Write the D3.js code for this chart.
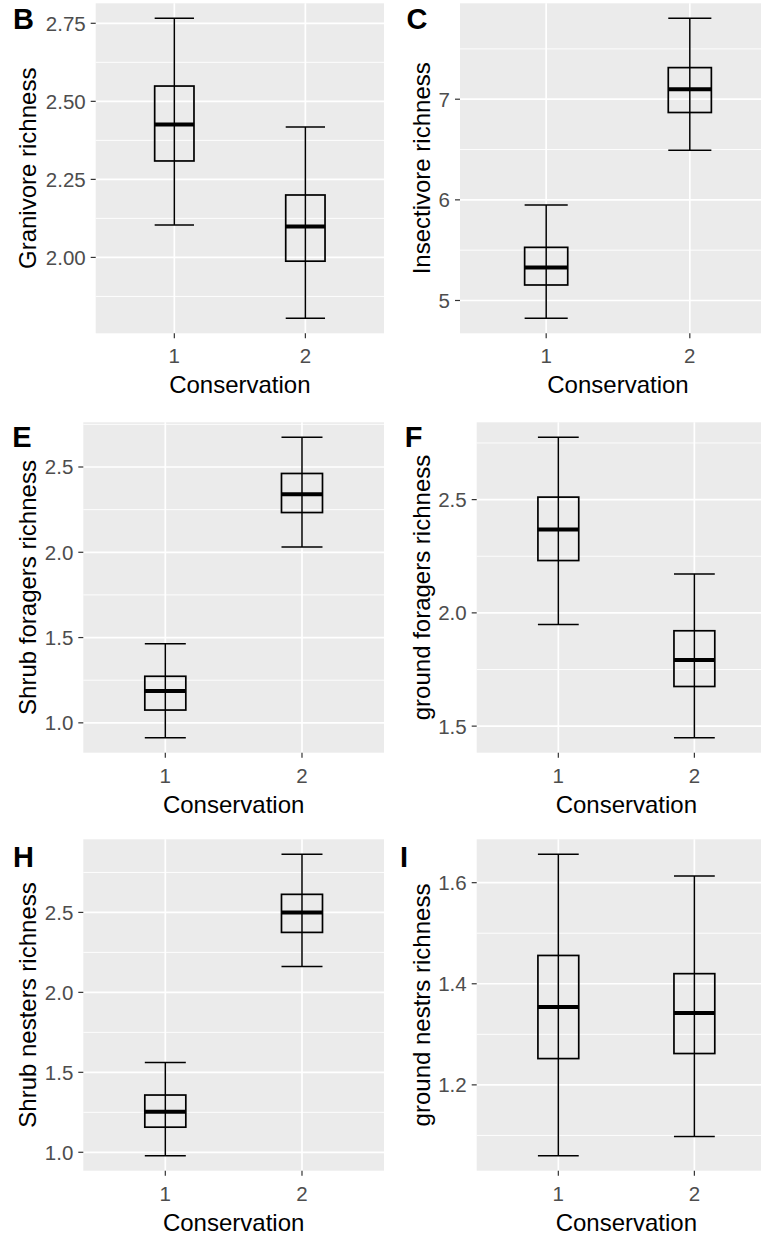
<!DOCTYPE html>
<html>
<head>
<meta charset="utf-8">
<script src="https://cdn.jsdelivr.net/npm/d3@7"></script>
<style>
  body { margin: 0; background: #fff; }
  svg { display: block; }
</style>
</head>
<body>
<div id="chart"></div>
<script>
// ---- data ----
const panelTags = ["B", "C", "E", "F", "H", "I"];
const yTitles = [
  "Granivore richness", "Insectivore richness",
  "Shrub foragers richness", "ground foragers richness",
  "Shrub nesters richness", "ground nestrs richness"
];
const groups = ["1", "2"];
const xTitle = "Conservation";

const yTickValues = [
  [2.00, 2.25, 2.50, 2.75], [5, 6, 7],
  [1.0, 1.5, 2.0, 2.5], [1.5, 2.0, 2.5],
  [1.0, 1.5, 2.0, 2.5], [1.2, 1.4, 1.6]
];
const yTickLabels = [
  ["2.00", "2.25", "2.50", "2.75"], ["5", "6", "7"],
  ["1.0", "1.5", "2.0", "2.5"], ["1.5", "2.0", "2.5"],
  ["1.0", "1.5", "2.0", "2.5"], ["1.2", "1.4", "1.6"]
];

// one pair per panel: [group 1, group 2]
const lowerWhisker  = [[2.104, 1.805], [4.823, 6.494], [0.913, 2.031], [1.949, 1.449], [0.979, 2.161], [1.060, 1.098]];
const lowerQuartile = [[2.309, 1.988], [5.154, 6.868], [1.075, 2.233], [2.231, 1.675], [1.157, 2.375], [1.252, 1.262]];
const medians       = [[2.426, 2.099], [5.329, 7.099], [1.186, 2.340], [2.368, 1.792], [1.254, 2.500], [1.354, 1.342]];
const upperQuartile = [[2.549, 2.200], [5.528, 7.314], [1.273, 2.462], [2.511, 1.921], [1.358, 2.613], [1.456, 1.420]];
const upperWhisker  = [[2.766, 2.418], [5.950, 7.804], [1.463, 2.674], [2.775, 2.172], [1.561, 2.863], [1.656, 1.613]];

// ---- layout ----
const width = 761, height = 1235;
const panels = [
  {left: 95.7,  top: 3.3,   right: 384, bottom: 333.3,  col: 0, tagY: 28.5},
  {left: 460,   top: 3.3,   right: 776, bottom: 333.3,  col: 1, tagY: 28.5},
  {left: 83.3,  top: 422.3, right: 384, bottom: 752.7,  col: 0, tagY: 446.8},
  {left: 476.7, top: 422.3, right: 776, bottom: 752.7,  col: 1, tagY: 446.8},
  {left: 83.3,  top: 839.3, right: 384, bottom: 1170.7, col: 0, tagY: 866.7},
  {left: 476.7, top: 839.3, right: 776, bottom: 1170.7, col: 1, tagY: 866.7}
];
const colBase = [2.5, 396];      // tag anchor of each column
const yTitleX = [36, 430];       // baseline of rotated y titles

const font = "'Liberation Sans', Arial, sans-serif";
const tickSize = 20.5, titleSize = 24, tagSize = 29;

const svg = d3.select("#chart")
  .append("svg")
    .attr("width", width)
    .attr("height", height)
    .style("font-family", font);

panels.forEach((p, i) => {
  const g = svg.append("g");

  // y domain like ggplot: data range expanded by 5%
  const lo = d3.min(lowerWhisker[i]), hi = d3.max(upperWhisker[i]);
  const pad = (hi - lo) * 0.05;
  const y = d3.scaleLinear()
    .domain([lo - pad, hi + pad])
    .range([p.bottom, p.top]);

  const x = d3.scalePoint()
    .domain(groups)
    .range([p.left, p.right])
    .padding(0.6);
  const boxW = x.step() * 0.3;

  // panel background (right column runs past the page edge, as in the original)
  g.append("rect")
    .attr("x", p.left).attr("y", p.top)
    .attr("width", p.right - p.left).attr("height", p.bottom - p.top)
    .attr("fill", "#EBEBEB");

  // minor grid: midpoints between ticks, one step beyond each end
  const ticks = yTickValues[i];
  const step = ticks[1] - ticks[0];
  const minor = [ticks[0] - step / 2].concat(ticks.map(t => t + step / 2))
    .filter(v => v > y.domain()[0] && v < y.domain()[1]);

  g.selectAll(".minor")
    .data(minor)
    .join("line")
      .attr("x1", p.left).attr("x2", p.right)
      .attr("y1", d => y(d)).attr("y2", d => y(d))
      .attr("stroke", "#fff").attr("stroke-width", 0.9);

  g.selectAll(".major")
    .data(ticks)
    .join("line")
      .attr("x1", p.left).attr("x2", p.right)
      .attr("y1", d => y(d)).attr("y2", d => y(d))
      .attr("stroke", "#fff").attr("stroke-width", 1.7);

  g.selectAll(".vmajor")
    .data(groups)
    .join("line")
      .attr("x1", d => x(d)).attr("x2", d => x(d))
      .attr("y1", p.top).attr("y2", p.bottom)
      .attr("stroke", "#fff").attr("stroke-width", 1.7);

  // boxes
  const stats = groups.map((k, j) => ({
    key: k,
    lw: lowerWhisker[i][j], q1: lowerQuartile[i][j], med: medians[i][j],
    q3: upperQuartile[i][j], uw: upperWhisker[i][j]
  }));

  const box = g.selectAll(".box")
    .data(stats)
    .join("g");

  box.append("line")
    .attr("x1", d => x(d.key)).attr("x2", d => x(d.key))
    .attr("y1", d => y(d.lw)).attr("y2", d => y(d.uw))
    .attr("stroke", "#000").attr("stroke-width", 1.5);

  ["lw", "uw"].forEach(k => {
    box.append("line")
      .attr("x1", d => x(d.key) - boxW / 2).attr("x2", d => x(d.key) + boxW / 2)
      .attr("y1", d => y(d[k])).attr("y2", d => y(d[k]))
      .attr("stroke", "#000").attr("stroke-width", 1.5);
  });

  box.append("rect")
    .attr("x", d => x(d.key) - boxW / 2)
    .attr("width", boxW)
    .attr("y", d => y(d.q3))
    .attr("height", d => y(d.q1) - y(d.q3))
    .attr("fill", "none")
    .attr("stroke", "#000").attr("stroke-width", 1.7);

  box.append("line")
    .attr("x1", d => x(d.key) - boxW / 2).attr("x2", d => x(d.key) + boxW / 2)
    .attr("y1", d => y(d.med)).attr("y2", d => y(d.med))
    .attr("stroke", "#000").attr("stroke-width", 4);

  // y axis ticks + labels
  g.selectAll(".ytick")
    .data(ticks)
    .join("line")
      .attr("x1", p.left - 5).attr("x2", p.left)
      .attr("y1", d => y(d)).attr("y2", d => y(d))
      .attr("stroke", "#333").attr("stroke-width", 1.2);

  g.selectAll(".ylab")
    .data(ticks)
    .join("text")
      .attr("x", p.left - 10)
      .attr("y", d => y(d) + tickSize * 0.36)
      .attr("text-anchor", "end")
      .attr("font-size", tickSize)
      .attr("fill", "#4D4D4D")
      .text((d, k) => yTickLabels[i][k]);

  // x axis ticks + labels
  g.selectAll(".xtick")
    .data(groups)
    .join("line")
      .attr("x1", d => x(d)).attr("x2", d => x(d))
      .attr("y1", p.bottom).attr("y2", p.bottom + 5)
      .attr("stroke", "#333").attr("stroke-width", 1.2);

  g.selectAll(".xlab")
    .data(groups)
    .join("text")
      .attr("x", d => x(d))
      .attr("y", p.bottom + 30)
      .attr("text-anchor", "middle")
      .attr("font-size", tickSize)
      .attr("fill", "#4D4D4D")
      .text(d => d);

  // axis titles
  g.append("text")
    .attr("x", (p.left + p.right) / 2)
    .attr("y", p.bottom + 60)
    .attr("text-anchor", "middle")
    .attr("font-size", titleSize)
    .attr("fill", "#000")
    .text(xTitle);

  g.append("text")
    .attr("transform", `translate(${yTitleX[p.col]}, ${(p.top + p.bottom) / 2}) rotate(-90)`)
    .attr("text-anchor", "middle")
    .attr("font-size", titleSize)
    .attr("fill", "#000")
    .text(yTitles[i]);

  // panel tag (hjust -0.5 like cowplot)
  const tag = g.append("text")
    .attr("y", p.tagY)
    .attr("font-size", tagSize)
    .attr("font-weight", "bold")
    .attr("fill", "#000")
    .text(panelTags[i]);
  const len = tag.node().getComputedTextLength();
  tag.attr("x", colBase[p.col] + len / 2);
});
</script>
</body>
</html>
